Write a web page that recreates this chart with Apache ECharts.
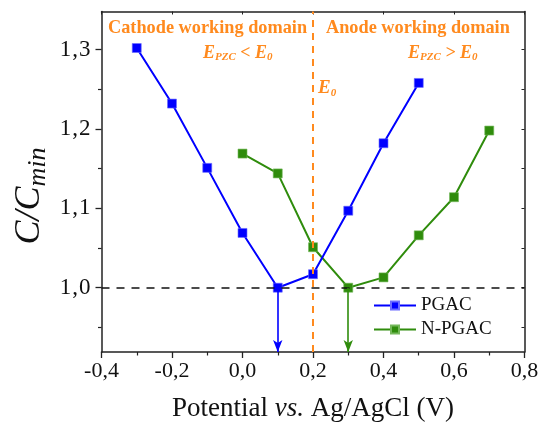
<!DOCTYPE html>
<html>
<head>
<meta charset="utf-8">
<script src="https://cdn.jsdelivr.net/npm/echarts@6/dist/echarts.min.js"></script>
<style>
  html, body { margin: 0; padding: 0; background: #fff; }
  #chart { width: 539px; height: 423px; }
</style>
</head>
<body>
<div id="chart"></div>
<script>
// Potential (V vs. Ag/AgCl) and normalised capacitance C/Cmin
const pgacPotential = [-0.3, -0.2, -0.1, 0.0, 0.1, 0.2, 0.3, 0.4, 0.5];
const pgacRatio     = [1.302, 1.232, 1.151, 1.069, 1.000, 1.017, 1.097, 1.182, 1.258];
const npgacPotential = [0.0, 0.1, 0.2, 0.3, 0.4, 0.5, 0.6, 0.7];
const npgacRatio     = [1.169, 1.144, 1.051, 1.000, 1.013, 1.066, 1.114, 1.198];

const seriesNames = ['PGAC', 'N-PGAC'];
const e0Potential = 0.2;          // E0, boundary of the two working domains
const pgacMinPotential = 0.1;     // potential of minimum capacitance, PGAC
const npgacMinPotential = 0.3;    // potential of minimum capacitance, N-PGAC
const referenceRatio = 1.0;

const xMin = -0.4, xMax = 0.8, xStep = 0.2;
const yMin = 0.919, yMax = 1.348;
const yTicks = [1.0, 1.1, 1.2, 1.3];
const yMinorTicks = [0.95, 1.05, 1.15, 1.25];

const BLUE = '#0000ff';
const GREEN = '#2f8c0c';
const ORANGE = '#ff8a1e';
const SERIF = '"Liberation Serif", "DejaVu Serif", serif';

const comma = v => v.toFixed(1).replace('.', ',');
const pairs = (xs, ys) => xs.map((x, i) => [x, ys[i]]);

const chart = echarts.init(document.getElementById('chart'), null, { renderer: 'canvas' });

const axisLine = { onZero: false, lineStyle: { color: '#222', width: 1.5 } };
const hiddenLine = { show: false, onZero: false };

const option = {
  animation: false,
  backgroundColor: '#fff',
  grid: { left: 101.5, right: 14.5, top: 11.5, bottom: 71, containLabel: false, outerBoundsMode: 'none' },
  xAxis: [{
    type: 'value', min: xMin, max: xMax, interval: xStep,
    axisLine: axisLine,
    axisTick: { show: true, inside: false, length: 6, lineStyle: { color: '#222', width: 1.3 } },
    minorTick: { show: true, splitNumber: 2, length: 3.5, lineStyle: { color: '#222', width: 1.2 } },
    splitLine: { show: false },
    axisLabel: { formatter: comma, fontFamily: SERIF, fontSize: 22, color: '#111', margin: 8 },
    name: '{n|Potential }{i|vs.}{n| Ag/AgCl (V)}',
    nameLocation: 'middle', nameGap: 43,
    nameTextStyle: {
      rich: {
        n: { fontFamily: SERIF, fontSize: 27, color: '#111' },
        i: { fontFamily: SERIF, fontSize: 27, fontStyle: 'italic', color: '#111' }
      }
    }
  }, {
    type: 'value', min: xMin, max: xMax, interval: xStep, position: 'top',
    axisLine: axisLine,
    axisTick: { show: true, inside: true, length: 3, lineStyle: { color: '#222', width: 1 } },
    axisLabel: { show: false }, splitLine: { show: false }
  }],
  yAxis: [{
    type: 'value', min: yMin, max: yMax,
    axisLine: axisLine,
    axisTick: { show: true, inside: false, length: 6, customValues: yTicks, lineStyle: { color: '#222', width: 1.3 } },
    axisLabel: {
      customValues: yTicks, margin: 11,
      formatter: v => { const s = comma(v).split(','); return '{d|' + s[0] + '}{c|,}{d|' + s[1] + '}'; },
      rich: {
        d: { fontFamily: SERIF, fontSize: 23, color: '#111' },
        c: { fontFamily: SERIF, fontSize: 23, color: '#111', padding: [0, 1, 0, 1] }
      }
    },
    splitLine: { show: false }
  }, {
    type: 'value', min: yMin, max: yMax, position: 'right',
    axisLine: axisLine,
    axisTick: { show: true, inside: true, length: 3, customValues: yTicks.concat(yMinorTicks), lineStyle: { color: '#222', width: 1 } },
    axisLabel: { show: false }, splitLine: { show: false }
  }, {
    // minor ticks on the left axis
    type: 'value', min: yMin, max: yMax, position: 'left',
    axisLine: hiddenLine,
    axisTick: { show: true, inside: false, length: 3.5, customValues: yMinorTicks, lineStyle: { color: '#222', width: 1.2 } },
    axisLabel: { show: false }, splitLine: { show: false }
  }],
  legend: {
    orient: 'vertical', left: 368, top: 291, itemWidth: 42, itemHeight: 10, itemGap: 5,
    data: seriesNames,
    textStyle: { fontFamily: SERIF, fontSize: 19, color: '#111' }
  },
  series: [
    {
      // reference lines drawn beneath the data
      name: 'guides', type: 'line', data: [], silent: true, z: 1,
      markLine: {
        silent: true, symbol: ['none', 'none'], label: { show: false },
        data: [
          { yAxis: referenceRatio, lineStyle: { color: '#111', type: [8, 7], width: 1.6 } },
          { xAxis: e0Potential, lineStyle: { color: ORANGE, type: [7, 6], width: 2 } }
        ]
      }
    },
    {
      name: seriesNames[0], type: 'line', data: pairs(pgacPotential, pgacRatio),
      color: BLUE, symbol: 'rect', symbolSize: 9, z: 3,
      lineStyle: { width: 2, color: BLUE },
      itemStyle: { color: BLUE, borderColor: '#6b6bff', borderWidth: 0.6 },
      markLine: {
        silent: true, symbol: ['none', 'arrow'], symbolSize: [7, 12], label: { show: false },
        lineStyle: { color: BLUE, type: 'solid', width: 1.6 },
        data: [[{ coord: [pgacMinPotential, referenceRatio] }, { coord: [pgacMinPotential, yMin] }]]
      }
    },
    {
      name: seriesNames[1], type: 'line', data: pairs(npgacPotential, npgacRatio),
      color: GREEN, symbol: 'rect', symbolSize: 9, z: 2,
      lineStyle: { width: 2, color: GREEN },
      itemStyle: { color: GREEN, borderColor: '#74b85a', borderWidth: 0.6 },
      markLine: {
        silent: true, symbol: ['none', 'arrow'], symbolSize: [7, 12], label: { show: false },
        lineStyle: { color: GREEN, type: 'solid', width: 1.6 },
        data: [[{ coord: [npgacMinPotential, referenceRatio] }, { coord: [npgacMinPotential, yMin] }]]
      }
    }
  ],
  graphic: [
    {
      type: 'text', left: 108, top: 19,
      style: { text: 'Cathode working domain', font: 'bold 18.3px ' + SERIF, fill: ORANGE }
    },
    {
      type: 'text', left: 326, top: 19,
      style: { text: 'Anode working domain', font: 'bold 18.3px ' + SERIF, fill: ORANGE }
    },
    {
      type: 'text', left: 203, top: 44,
      style: {
        text: '{e|E}{s|PZC}{e| < E}{s|0}',
        rich: {
          e: { fontFamily: SERIF, fontSize: 18, fontWeight: 'bold', fontStyle: 'italic', fill: ORANGE, lineHeight: 20 },
          s: { fontFamily: SERIF, fontSize: 11, fontWeight: 'bold', fontStyle: 'italic', fill: ORANGE, lineHeight: 20, verticalAlign: 'bottom', padding: [8, 0, 0, 0] }
        }
      }
    },
    {
      type: 'text', left: 408, top: 44,
      style: {
        text: '{e|E}{s|PZC}{e| > E}{s|0}',
        rich: {
          e: { fontFamily: SERIF, fontSize: 18, fontWeight: 'bold', fontStyle: 'italic', fill: ORANGE, lineHeight: 20 },
          s: { fontFamily: SERIF, fontSize: 11, fontWeight: 'bold', fontStyle: 'italic', fill: ORANGE, lineHeight: 20, verticalAlign: 'bottom', padding: [8, 0, 0, 0] }
        }
      }
    },
    {
      type: 'text', left: 318, top: 79,
      style: {
        text: '{e|E}{s|0}',
        rich: {
          e: { fontFamily: SERIF, fontSize: 19, fontWeight: 'bold', fontStyle: 'italic', fill: ORANGE, lineHeight: 21 },
          s: { fontFamily: SERIF, fontSize: 11, fontWeight: 'bold', fontStyle: 'italic', fill: ORANGE, lineHeight: 21, verticalAlign: 'bottom', padding: [8, 0, 0, 0] }
        }
      }
    },
    {
      type: 'text', x: 30, y: 196, rotation: Math.PI / 2,
      style: {
        text: '{c|C/C}{m|min}', align: 'center', verticalAlign: 'middle',
        rich: {
          c: { fontFamily: SERIF, fontSize: 36, fontStyle: 'italic', fill: '#111', lineHeight: 42 },
          m: { fontFamily: SERIF, fontSize: 26, fontStyle: 'italic', fill: '#111', lineHeight: 8, verticalAlign: 'bottom' }
        }
      }
    }
  ]
};

chart.setOption(option);
</script>
</body>
</html>
